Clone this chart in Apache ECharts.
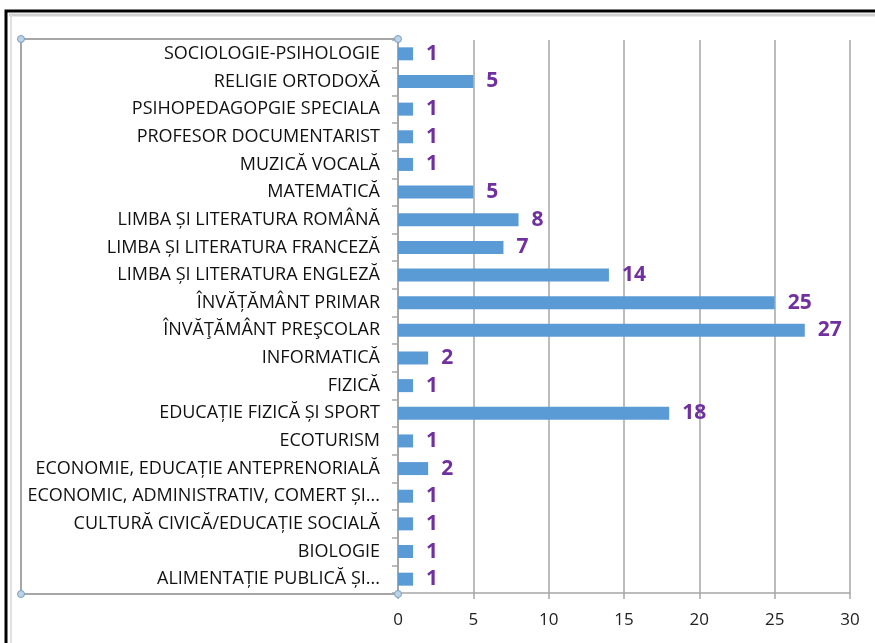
<!DOCTYPE html>
<html>
<head>
<meta charset="utf-8">
<script src="https://cdn.jsdelivr.net/npm/echarts@6/dist/echarts.min.js"></script>
<style>
  html, body { margin: 0; padding: 0; background: #fff; }
  #chart { width: 875px; height: 643px; }
</style>
</head>
<body>
<div id="chart"></div>
<script>
// categorii (de jos in sus, ca pe axa)
const categorii = [
    'ALIMENTAȚIE PUBLICĂ ȘI...',
    'BIOLOGIE',
    'CULTURĂ CIVICĂ/EDUCAȚIE SOCIALĂ',
    'ECONOMIC, ADMINISTRATIV, COMERT ȘI...',
    'ECONOMIE, EDUCAȚIE ANTEPRENORIALĂ',
    'ECOTURISM',
    'EDUCAȚIE FIZICĂ ȘI SPORT',
    'FIZICĂ',
    'INFORMATICĂ',
    'ÎNVĂŢĂMÂNT PREŞCOLAR',
    'ÎNVĂȚĂMÂNT PRIMAR',
    'LIMBA ȘI LITERATURA ENGLEZĂ',
    'LIMBA ȘI LITERATURA FRANCEZĂ',
    'LIMBA ȘI LITERATURA ROMÂNĂ',
    'MATEMATICĂ',
    'MUZICĂ VOCALĂ',
    'PROFESOR DOCUMENTARIST',
    'PSIHOPEDAGOPGIE SPECIALA',
    'RELIGIE ORTODOXĂ',
    'SOCIOLOGIE-PSIHOLOGIE'
]
const valori = [1, 1, 1, 1, 2, 1, 18, 1, 2, 27, 25, 14, 7, 8, 5, 1, 1, 1, 5, 1]
const tickuriX = [0, 5, 10, 15, 20, 25, 30]

const chart = echarts.init(document.getElementById('chart'))

const gri = '#a6a6a6'
const manere = [[21, 39], [398, 39], [21, 594], [398, 594]]

const option = {
    animation: false,
    grid: {
        left: 398,
        right: 25,
        top: 40,
        bottom: 50,
        containLabel: false
    },
    xAxis: {
        type: 'value',
        min: tickuriX[0],
        max: tickuriX[tickuriX.length - 1],
        interval: 5,
        axisLine: { show: true, lineStyle: { color: gri, width: 1.5 } },
        axisTick: { show: true, length: 6, lineStyle: { color: gri, width: 1.5 } },
        axisLabel: {
            color: '#222',
            fontFamily: 'Open Sans',
            fontSize: 17,
            margin: 19
        },
        splitLine: { show: true, lineStyle: { color: gri, width: 1.5 } }
    },
    yAxis: {
        type: 'category',
        data: categorii,
        axisLine: { show: true, lineStyle: { color: gri, width: 1.5 } },
        axisTick: { show: true, length: 6, lineStyle: { color: gri, width: 1.5 } },
        axisLabel: {
            color: '#111',
            fontFamily: 'Open Sans',
            fontSize: 18,
            margin: 18
        }
    },
    series: [
        {
            type: 'bar',
            data: valori,
            barWidth: 13,
            itemStyle: { color: '#5b9bd5' },
            label: {
                show: true,
                position: 'right',
                distance: 13,
                color: '#7030a0',
                fontFamily: 'Open Sans',
                fontWeight: 'bold',
                fontSize: 21
            }
        }
    ],
    // rama de selectie si marginea imaginii
    graphic: [
        { type: 'rect', shape: { x: 6, y: 11, width: 900, height: 700 }, style: { fill: 'none', stroke: '#000', lineWidth: 3 }, silent: true },
        { type: 'line', shape: { x1: 9, y1: 15, x2: 875, y2: 15 }, style: { stroke: '#d0d0d0', lineWidth: 3 }, silent: true },
        { type: 'line', shape: { x1: 11, y1: 15, x2: 11, y2: 643 }, style: { stroke: '#e0e0e0', lineWidth: 2 }, silent: true },
        { type: 'rect', shape: { x: 21, y: 39, width: 377, height: 555 }, style: { fill: 'none', stroke: gri, lineWidth: 2 }, silent: true }
    ].concat(manere.map(p => ({
        type: 'circle',
        shape: { cx: p[0], cy: p[1], r: 3.5 },
        style: { fill: '#bcd3e8', stroke: '#7a9fc2', lineWidth: 1 },
        silent: true,
        z: 10
    })))
}

chart.setOption(option)
window.addEventListener('resize', () => {
    chart.resize()
})
</script>
</body>
</html>
